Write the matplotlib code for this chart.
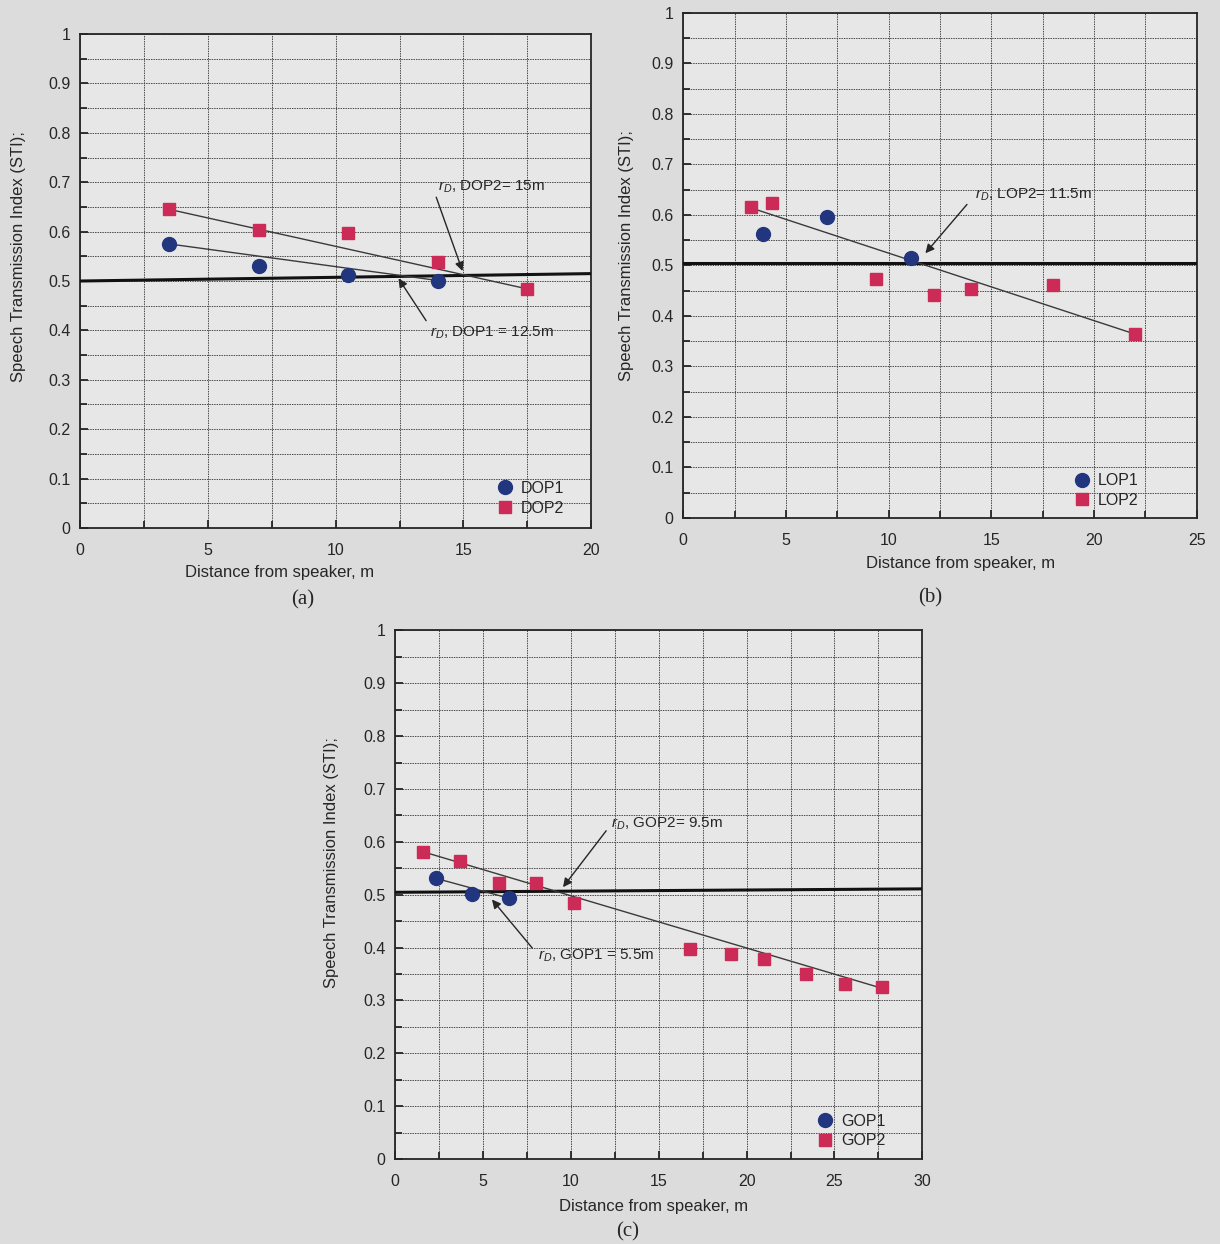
import numpy as np
import matplotlib.pyplot as plt
from matplotlib.ticker import MultipleLocator, FuncFormatter

plt.rcParams['font.family'] = ['Liberation Sans', 'DejaVu Sans']
plt.rcParams['mathtext.fontset'] = 'custom'
plt.rcParams['mathtext.rm'] = 'Liberation Sans'
plt.rcParams['mathtext.it'] = 'Liberation Sans:italic'

# (a) DOP
dop1_x = [3.5, 7.0, 10.5, 14.0]
dop1_y = [0.575, 0.530, 0.512, 0.501]
dop2_x = [3.5, 7.0, 10.5, 14.0, 17.5]
dop2_y = [0.645, 0.603, 0.598, 0.538, 0.484]
dop1_fit_x = [3.5, 14.0]
dop1_fit_y = [0.575, 0.501]
dop2_fit_x = [3.5, 17.5]
dop2_fit_y = [0.645, 0.484]
dop_limit_x = [0, 20]
dop_limit_y = [0.500, 0.515]

# (b) LOP
lop1_x = [3.9, 7.0, 11.1]
lop1_y = [0.563, 0.595, 0.515]
lop2_x = [3.3, 4.3, 9.4, 12.2, 14.0, 18.0, 22.0]
lop2_y = [0.616, 0.623, 0.474, 0.442, 0.453, 0.462, 0.364]
lop2_fit_x = [3.3, 22.0]
lop2_fit_y = [0.614, 0.364]
lop_limit_x = [0, 25]
lop_limit_y = [0.505, 0.505]

# (c) GOP
gop1_x = [2.3, 4.35, 6.5]
gop1_y = [0.531, 0.502, 0.493]
gop2_x = [1.6, 3.7, 5.9, 8.0, 10.2, 16.8, 19.1, 21.0, 23.4, 25.6, 27.7]
gop2_y = [0.581, 0.563, 0.523, 0.523, 0.485, 0.397, 0.387, 0.379, 0.350, 0.331, 0.325]
gop1_fit_x = [2.3, 6.5]
gop1_fit_y = [0.531, 0.493]
gop2_fit_x = [1.6, 27.7]
gop2_fit_y = [0.581, 0.323]
gop_limit_x = [0, 30]
gop_limit_y = [0.5045, 0.511]

BLUE = '#22367f'
RED = '#cc2a57'
INK = '#262626'

fig = plt.figure(figsize=(12.2, 12.44), dpi=100, facecolor='#dcdcdc')


def setup(ax, xmax):
    ax.set_facecolor('#e7e7e7')
    ax.set_xlim(0, xmax)
    ax.set_ylim(0, 1)
    ax.xaxis.set_major_locator(MultipleLocator(5))
    ax.xaxis.set_minor_locator(MultipleLocator(2.5))
    ax.yaxis.set_major_locator(MultipleLocator(0.1))
    ax.yaxis.set_minor_locator(MultipleLocator(0.05))
    ax.yaxis.set_major_formatter(FuncFormatter(lambda v, p: '%g' % round(v, 2)))
    ax.grid(True, which='both', color='#4a4a4a', lw=0.7, ls=(0, (1.5, 1)))
    ax.set_axisbelow(True)
    ax.tick_params(which='both', direction='in', color=INK, width=1.3,
                   labelsize=11.5, labelcolor=INK)
    ax.tick_params(which='major', length=6)
    ax.tick_params(which='minor', length=5)
    ax.tick_params(axis='x', pad=11)
    ax.tick_params(axis='y', pad=7)
    for s in ax.spines.values():
        s.set_color(INK)
        s.set_linewidth(1.3)
    ax.set_ylabel('Speech Transmission Index (STI);', fontsize=12, color=INK)
    ax.set_xlabel('Distance from speaker, m', fontsize=12, color=INK)


def arrow(ax, text, tail, head, pos):
    ax.annotate('', xy=head, xytext=tail,
                arrowprops=dict(arrowstyle='-|>', color=INK, lw=1.0, mutation_scale=13))
    ax.text(pos[0], pos[1], text, fontsize=11, color=INK, ha='left', va='center')


# (a)
ax = fig.add_axes([0.0656, 0.5756, 0.419, 0.397])
setup(ax, 20)
ax.plot(dop_limit_x, dop_limit_y, color='#111111', lw=2.2, zorder=3)
ax.plot(dop1_fit_x, dop1_fit_y, color='#3a3a3a', lw=1.0, zorder=3)
ax.plot(dop2_fit_x, dop2_fit_y, color='#3a3a3a', lw=1.0, zorder=3)
ax.plot(dop1_x, dop1_y, 'o', color=BLUE, ms=10, ls='none', label='DOP1', zorder=4)
ax.plot(dop2_x, dop2_y, 's', color=RED, ms=9, ls='none', label='DOP2', zorder=4)
arrow(ax, r'$r_D$, DOP2= 15m', (13.9, 0.675), (15.0, 0.515), (14.0, 0.69))
arrow(ax, r'$r_D$, DOP1 = 12.5m', (13.6, 0.415), (12.4, 0.51), (13.7, 0.395))
ax.legend(loc='lower left', bbox_to_anchor=(0.815, 0.025), frameon=False,
          fontsize=11.5, handlelength=1.0, handletextpad=0.5, labelspacing=0.3,
          borderpad=0, borderaxespad=0, labelcolor=INK)
ax.yaxis.set_label_coords(-0.106, 0.55)
ax.xaxis.set_label_coords(0.39, -0.075)

# (b)
ax = fig.add_axes([0.560, 0.5836, 0.421, 0.406])
setup(ax, 25)
ax.plot(lop_limit_x, lop_limit_y, color='#111111', lw=2.2, zorder=3)
ax.plot(lop2_fit_x, lop2_fit_y, color='#3a3a3a', lw=1.0, zorder=3)
ax.plot(lop1_x, lop1_y, 'o', color=BLUE, ms=10, ls='none', label='LOP1', zorder=4)
ax.plot(lop2_x, lop2_y, 's', color=RED, ms=9, ls='none', label='LOP2', zorder=4)
arrow(ax, r'$r_D$, LOP2= 11.5m', (13.9, 0.625), (11.7, 0.52), (14.2, 0.64))
ax.legend(loc='lower left', bbox_to_anchor=(0.76, 0.02), frameon=False,
          fontsize=11.5, handlelength=1.0, handletextpad=0.5, labelspacing=0.3,
          borderpad=0, borderaxespad=0, labelcolor=INK)
ax.yaxis.set_label_coords(-0.095, 0.52)
ax.xaxis.set_label_coords(0.54, -0.075)

# (c)
ax = fig.add_axes([0.324, 0.0683, 0.432, 0.425])
setup(ax, 30)
ax.plot(gop_limit_x, gop_limit_y, color='#111111', lw=2.2, zorder=3)
ax.plot(gop1_fit_x, gop1_fit_y, color='#3a3a3a', lw=1.0, zorder=3)
ax.plot(gop2_fit_x, gop2_fit_y, color='#3a3a3a', lw=1.0, zorder=3)
ax.plot(gop1_x, gop1_y, 'o', color=BLUE, ms=10, ls='none', label='GOP1', zorder=4)
ax.plot(gop2_x, gop2_y, 's', color=RED, ms=9, ls='none', label='GOP2', zorder=4)
arrow(ax, r'$r_D$, GOP2= 9.5m', (12.1, 0.625), (9.45, 0.51), (12.3, 0.635))
arrow(ax, r'$r_D$, GOP1 = 5.5m', (7.9, 0.395), (5.4, 0.495), (8.1, 0.385))
ax.legend(loc='lower left', bbox_to_anchor=(0.80, 0.02), frameon=False,
          fontsize=11.5, handlelength=1.0, handletextpad=0.5, labelspacing=0.3,
          borderpad=0, borderaxespad=0, labelcolor=INK)
ax.yaxis.set_label_coords(-0.106, 0.56)
ax.xaxis.set_label_coords(0.49, -0.075)

fig.text(303 / 1220, 1 - 600 / 1244, '(a)', fontsize=15, family='Liberation Serif',
         color=INK, ha='center', va='center')
fig.text(930 / 1220, 1 - 598 / 1244, '(b)', fontsize=15, family='Liberation Serif',
         color=INK, ha='center', va='center')
fig.text(628 / 1220, 1 - 1232 / 1244, '(c)', fontsize=15, family='Liberation Serif',
         color=INK, ha='center', va='center')

plt.savefig('out.png', dpi=100, facecolor=fig.get_facecolor())
